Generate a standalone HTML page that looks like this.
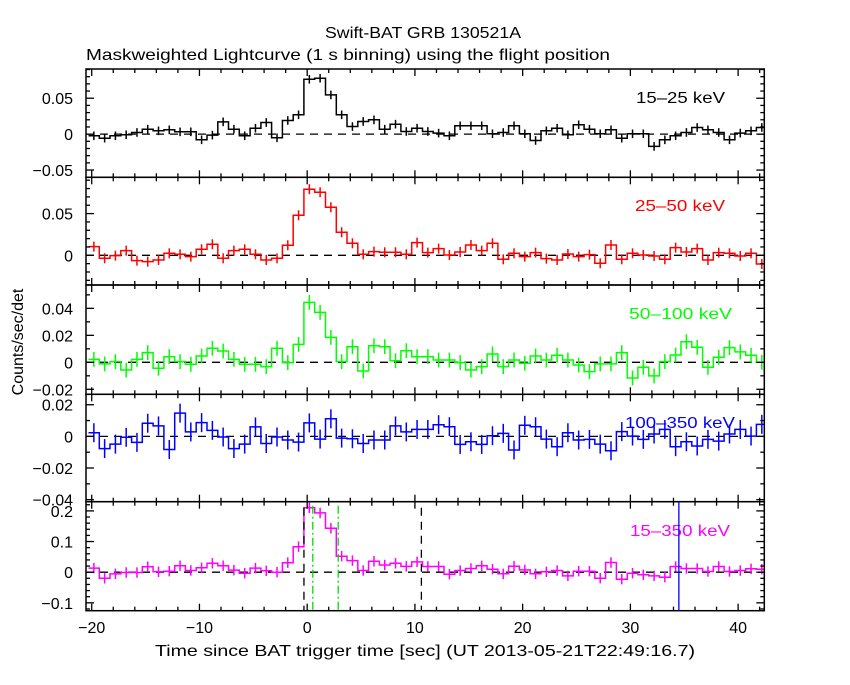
<!DOCTYPE html>
<html><head><meta charset="utf-8"><style>
body{margin:0;background:#fff;}
svg text{font-family:"Liberation Sans",sans-serif;font-size:16px;}
</style></head><body>
<svg id="chart" width="850" height="680" xmlns="http://www.w3.org/2000/svg">
<rect width="850" height="680" fill="#fff"/>
<text x="325" y="38" textLength="196" lengthAdjust="spacingAndGlyphs">Swift-BAT GRB 130521A</text>
<text x="86" y="60" textLength="524" lengthAdjust="spacingAndGlyphs">Maskweighted Lightcurve (1 s binning) using the flight position</text>
<text transform="translate(23,342) rotate(-90)" text-anchor="middle">Counts/sec/det</text>
<text x="155" y="656" textLength="540" lengthAdjust="spacingAndGlyphs">Time since BAT trigger time [sec] (UT 2013-05-21T22:49:16.7)</text>
</svg>
<script>
const times = [];
for (let i = -20; i <= 42; i++) times.push(i);
const band1 = [-0.0023,-0.0056,-0.0023,-0.0009,0.0023,0.0069,0.0046,0.006,0.0032,0.0032,-0.0079,-0.0014,0.0171,0.0069,-0.0023,0.0083,0.0162,-0.0051,0.019,0.0269,0.0764,0.0778,0.0546,0.0269,0.0106,0.0176,0.0199,0.0069,0.0139,0.0037,
0.0083,0.0037,0.0014,-0.0023,0.0116,0.0116,0.0116,0.0005,0.0023,0.0116,0.0005,-0.0088,0.0046,0.0083,-0.0009,0.0130,0.0069,0.0005,0.0060,-0.0056,0.0005,0.0005,-0.0171,-0.0079,-0.0023,0.0023,0.0093,0.0060,0.0023,-0.0079,0.0014,0.0046,0.0093];
const band2 = [0.0104,-0.0036,-0.0004,0.0056,-0.0064,-0.0076,-0.0056,0.0024,0.0012,-0.0016,0.0072,0.0132,-0.0036,0.0056,0.0072,0.0012,-0.0056,-0.0036,0.012,0.048,0.0792,0.0756,0.0576,0.0276,0.0144,0.0012,0.0044,0.0036,0.0036,0.0012,
0.0152,0.0032,0.008,0.0004,0.004,0.0124,0.0056,0.0144,-0.0048,0.0024,-0.0016,0.0032,-0.0040,-0.0056,0.0016,-0.0016,0.0008,-0.0096,0.0124,-0.0048,0.0024,0.0004,-0.0008,-0.0048,0.0092,0.0040,0.0080,-0.0056,0.0032,0.0024,-0.0008,0.0024,-0.0104];
const band3 = [0.0022,-0.0012,0.0005,-0.0057,0.0022,0.0072,-0.0044,0.0042,0.0005,-0.0015,0.0047,0.0104,0.0084,0.0022,-0.0015,-0.0015,-0.0032,0.0104,-0.0002,0.0133,0.0444,0.037,0.0185,0.0005,0.0116,-0.0064,0.0123,0.0116,0.0012,0.0086,
0.0042,0.0042,0.0017,0.0017,-0.0002,-0.0057,-0.0032,0.0062,-0.0032,0.0017,-0.0007,0.0047,0.0017,0.0052,0.0017,-0.0020,-0.0069,-0.0012,-0.0012,0.0072,-0.0116,-0.0037,-0.0101,0.0005,0.0054,0.0153,0.0111,-0.0037,0.0037,0.0109,0.0077,0.0052,0.0000];
const band4 = [0.0023,-0.0077,-0.0049,-0.0006,-0.0038,0.0083,0.0066,-0.0083,0.0147,0.0028,0.0087,0.0038,-0.0004,-0.0077,-0.0049,0.006,-0.0045,-0.0004,-0.0023,-0.0036,0.0085,-0.0017,0.0111,-0.0011,-0.0015,-0.0045,-0.0023,-0.0023,0.0066,0.0028,
0.0044,0.0044,0.0074,0.0061,-0.0051,-0.0034,-0.0051,0.0004,0.0019,-0.0086,0.0070,0.0061,-0.0017,-0.0065,0.0023,-0.0023,-0.0019,-0.0049,-0.0091,0.0030,0.0002,-0.0019,0.0015,0.0044,-0.0065,-0.0034,-0.0061,-0.0019,-0.0030,0.0015,0.0044,0.0002,0.0076];
const band5 = [0.0133,-0.02,-0.0056,-0.0011,-0.0011,0.0178,0.0011,0.0033,0.0211,0.0056,0.0144,0.0289,0.0211,0.0067,-0.0033,0.0133,0.0044,0,0.0311,0.0833,0.21,0.1933,0.1433,0.0522,0.0378,0.0056,0.0356,0.0233,0.0289,0.0189,
0.0337,0.0185,0.0185,-0.0065,0.0054,0.0120,0.0207,0.0098,-0.0054,0.0196,0.0076,-0.0054,0.0011,0.0054,-0.0120,0.0033,0.0033,-0.0196,0.0315,-0.0228,-0.0033,-0.0087,-0.0120,-0.0163,0.0185,0.0120,0.0120,0.0022,0.0185,0.0022,0.0054,0.0109,0.0098];
const errs = [0.006,0.006,0.0055,0.006,0.017];
const bandLabels = ["15\u201325 keV","25\u201350 keV","50\u2013100 keV","100\u2013350 keV","15\u2013350 keV"];
const xTicks = [-20,-10,0,10,20,30,40];

const svg = document.getElementById('chart');
const NS = 'http://www.w3.org/2000/svg';
const X0 = 86, X1 = 764.3, T0 = -20.53, T1 = 42.43;
function sx(t){ return X0 + (t - T0) / (T1 - T0) * (X1 - X0); }
const panels = [
 {top:69, bot:177.3, ymin:-0.0601, ymax:0.0907, data:band1, color:'#000', major:0.05, minor:0.01, labs:[[0.05,'0.05'],[0,'0'],[-0.05,'\u22120.05']], name:'panel-15-25kev', lx:636, ly:103, lw:89},
 {top:177.3, bot:285, ymin:-0.0356, ymax:0.0935, data:band2, color:'#ff0000', major:0.05, minor:0.01, labs:[[0.05,'0.05'],[0,'0']], name:'panel-25-50kev', lx:635, ly:211, lw:90},
 {top:285, bot:394.3, ymin:-0.0237, ymax:0.0573, data:band3, color:'#00ff00', major:0.02, minor:0.01, labs:[[0.04,'0.04'],[0.02,'0.02'],[0,'0'],[-0.02,'\u22120.02']], name:'panel-50-100kev', lx:629, ly:319, lw:103},
 {top:394.3, bot:501.7, ymin:-0.0413, ymax:0.0266, data:band4, color:'#0000ff', major:0.02, minor:0.01, labs:[[0.02,'0.02'],[0,'0'],[-0.02,'\u22120.02'],[-0.04,'\u22120.04']], name:'panel-100-350kev', lx:625, ly:428, lw:110},
 {top:501.7, bot:610.7, ymin:-0.1257, ymax:0.23, data:band5, color:'#ff00ff', major:0.1, minor:0.02, labs:[[0.2,'0.2'],[0.1,'0.1'],[0,'0'],[-0.1,'\u22120.1']], name:'panel-15-350kev', lx:630, ly:536, lw:100}
];
function el(tag, attrs, parent){ const e=document.createElementNS(NS,tag); for(const k in attrs) e.setAttribute(k,attrs[k]); (parent||svg).appendChild(e); return e; }

panels.forEach((p, pi) => {
  const g = el('g', {});
  
  
  const sy = v => p.bot - (v - p.ymin) / (p.ymax - p.ymin) * (p.bot - p.top);
  const z = el('line', {x1:X0, x2:X1, y1:sy(0), y2:sy(0), stroke:'#000', 'stroke-width':1.3, 'stroke-dasharray':'8,6'}, g);
  
  
  let d = '';
  p.data.forEach((v, i) => {
    const t = times[i] + 0.2;
    const xa = Math.max(X0, sx(t - 0.5)), xb = Math.min(X1, sx(t + 0.5)), y = sy(v);
    d += (i === 0 ? 'M' : 'L') + xa.toFixed(1) + ',' + y.toFixed(1) + 'L' + xb.toFixed(1) + ',' + y.toFixed(1);
  });
  const path = el('path', {d:d, fill:'none', stroke:p.color, 'stroke-width':1.5}, g);
  
  
  p.data.forEach((v, i) => {
    const t = times[i] + 0.2;
    const e = el('line', {x1:sx(t), x2:sx(t), y1:sy(v - errs[pi]), y2:sy(v + errs[pi]), stroke:p.color, 'stroke-width':1.5}, g);
    
    
  });
  const fr = el('rect', {x:X0, y:p.top, width:X1 - X0, height:p.bot - p.top, fill:'none', stroke:'#000', 'stroke-width':1.5}, g);
  
  
  for (let t = -20; t <= 42; t += 2) {
    const len = (t % 10 === 0) ? 7 : 4;
    el('line', {x1:sx(t), x2:sx(t), y1:p.top, y2:p.top + len, stroke:'#000', 'stroke-width':1.3}, g);
    el('line', {x1:sx(t), x2:sx(t), y1:p.bot, y2:p.bot - len, stroke:'#000', 'stroke-width':1.3}, g);
  }
  const n0 = Math.ceil(p.ymin / p.minor - 1e-6), n1 = Math.floor(p.ymax / p.minor + 1e-6);
  for (let n = n0; n <= n1; n++) {
    const v = n * p.minor;
    const isMaj = Math.abs(v / p.major - Math.round(v / p.major)) < 1e-6;
    const len = isMaj ? 8 : 4, y = sy(v);
    el('line', {x1:X0, x2:X0 + len, y1:y, y2:y, stroke:'#000', 'stroke-width':1.3}, g);
    el('line', {x1:X1, x2:X1 - len, y1:y, y2:y, stroke:'#000', 'stroke-width':1.3}, g);
  }
  p.labs.forEach(l => {
    const tx = el('text', {x:73, y:sy(l[0]) + 6, 'text-anchor':'end'}, g);
    tx.textContent = l[1];
    
    
  });
  const lb = el('text', {x:p.lx, y:p.ly, fill:p.color, textLength:p.lw, lengthAdjust:'spacingAndGlyphs'}, g);
  lb.textContent = bandLabels[pi];
  
  
});

const markerTimes = [-0.3, 10.6];
const greenTimes = [0.52, 2.88];
const p5 = panels[4];
markerTimes.forEach(t => {
  const l = el('line', {x1:sx(t), x2:sx(t), y1:p5.top + 6, y2:p5.bot, stroke:'#000', 'stroke-width':1.3, 'stroke-dasharray':'8,6'});
  
  
});
greenTimes.forEach(t => {
  const l = el('line', {x1:sx(t), x2:sx(t), y1:p5.top + 4, y2:p5.bot, stroke:'#00dd00', 'stroke-width':1.3, 'stroke-dasharray':'8,3,2,3'});
  
  
});
const bl = el('line', {x1:sx(34.5), x2:sx(34.5), y1:p5.top, y2:p5.bot, stroke:'#0000ff', 'stroke-width':1.3});



xTicks.forEach(t => {
  const tx = el('text', {x:sx(t), y:633, 'text-anchor':'middle'});
  tx.textContent = t < 0 ? '\u2212' + (-t) : String(t);
  
  
});
</script>
</body></html>
